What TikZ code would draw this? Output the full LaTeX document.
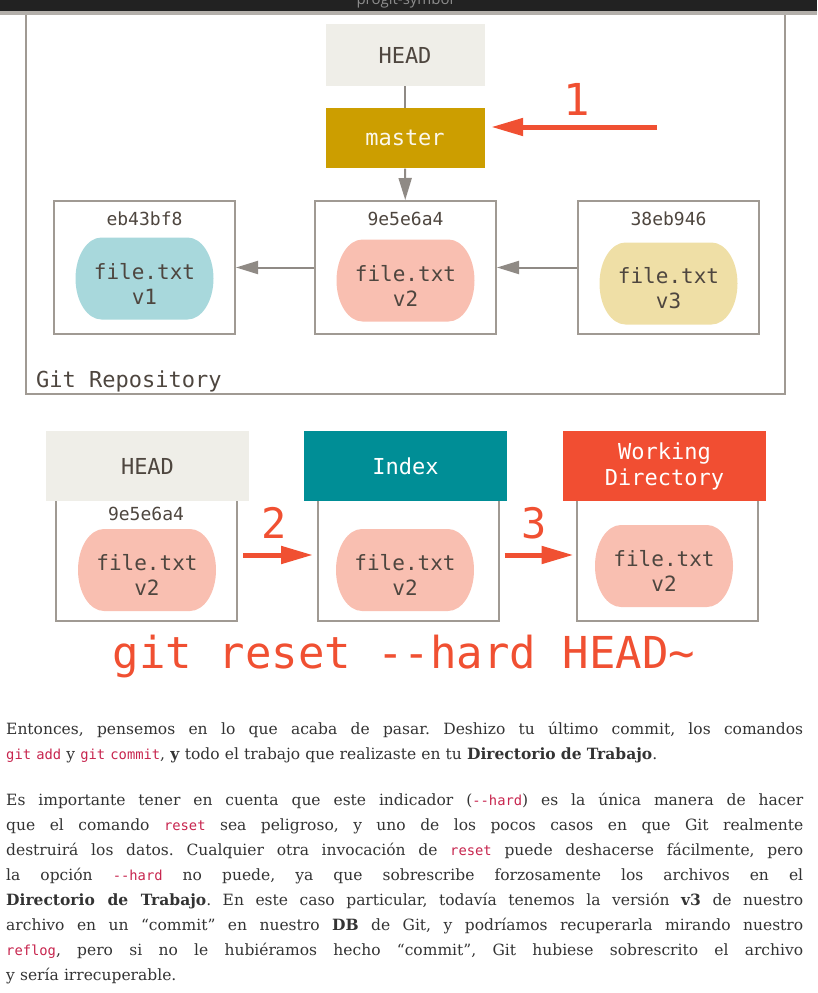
\documentclass[tikz,border=0pt]{standalone}
\usepackage{fontspec}
\setmainfont{DejaVu Serif}
\setmonofont{DejaVu Sans Mono}
\newfontfamily\barfont{Open Sans}
\usetikzlibrary{arrows.meta, positioning}

\definecolor{headfill}{HTML}{EFEEE8}
\definecolor{masterfill}{HTML}{CC9E00}
\definecolor{indexfill}{HTML}{008E96}
\definecolor{workfill}{HTML}{F14E32}
\definecolor{vonefill}{HTML}{A8D8DC}
\definecolor{vtwofill}{HTML}{F9BFB1}
\definecolor{vthreefill}{HTML}{EFDFA6}
\definecolor{ink}{HTML}{4E463F}
\definecolor{edgegrey}{HTML}{A09A93}
\definecolor{arrowgrey}{HTML}{8F8A85}
\definecolor{resetred}{HTML}{F05032}
\definecolor{codered}{HTML}{C7254E}
\definecolor{bodyink}{HTML}{333333}
\definecolor{barblack}{HTML}{222222}
\definecolor{bargrey}{HTML}{B3AFAA}

\newcommand\code[1]{{\ttfamily\fontsize{13.8}{25.1}\selectfont\color{codered}#1}}
\newcommand\fullline[1]{\makebox[797pt][s]{\spaceskip=0pt\xspaceskip=0pt\frenchspacing #1}}

\begin{document}
\begin{tikzpicture}[x=1pt, y=-1pt, every node/.style={inner sep=0pt},
	pointer/.style={minimum width=159pt, font=\ttfamily\fontsize{22}{26}\selectfont},
	headbox/.style={pointer, fill=headfill, text=ink, minimum height=62pt},
	branch/.style={pointer, fill=masterfill, text=white!92!masterfill, minimum height=60pt},
	commit/.style={draw=edgegrey, line width=2pt, minimum width=181pt, minimum height=133pt},
	stage/.style={draw=edgegrey, line width=2pt, minimum width=181pt, minimum height=124pt},
	area/.style={minimum width=203pt, minimum height=70pt, align=center, font=\ttfamily\fontsize{22}{26}\selectfont},
	hash/.style={text=ink, font=\ttfamily\fontsize{18}{22}\selectfont},
	blob/.style={minimum width=138pt, minimum height=92pt, align=center, text=ink, font=\ttfamily\fontsize{21}{25}\selectfont,
		path picture={\fill [#1] ([xshift=26pt]path picture bounding box.north west)
			-- ([xshift=-26pt]path picture bounding box.north east)
			arc [start angle=90, end angle=-90, x radius=26pt, y radius=41pt]
			-- ([xshift=26pt, yshift=10pt]path picture bounding box.south west)
			arc [start angle=270, end angle=90, x radius=26pt, y radius=41pt] -- cycle;}},
	history/.style={-{Triangle[length=22pt, width=13pt]}, draw=arrowgrey, line width=2pt},
	move/.style={-{Triangle[length=32pt, width=17pt]}, draw=resetred, line width=5pt},
	stepnum/.style={anchor=base, text=resetred, font=\ttfamily\fontsize{42}{42}\selectfont},
	prose/.style={anchor=base west, text width=797pt, align=left, text=bodyink, font=\fontsize{15.5}{25.1}\selectfont}]

	\useasboundingbox (0,0) rectangle (817,993);
	
	% window bar
	\fill [barblack] (0,0) rectangle (817,11);
	\begin{scope}
		\clip (0,0) rectangle (817,11);
		\node (bartitle) [anchor=base, text=black!45, font=\barfont\fontsize{15}{18}\selectfont] at (405,5) {progit-symbol};
	\end{scope}
	
	% repository
	\node (repo) 
		[draw=edgegrey, line width=2pt, minimum width=759pt, minimum height=380pt] at (405.5,204) {};
	\fill [bargrey] (0,11) rectangle (817,15);
	\node (repolabel) 
		[anchor=base west, text=ink, font=\ttfamily\fontsize{22}{26}\selectfont] at (36,387) {Git Repository};
	
	\node (headtop) 
		[headbox] at (405,55) {HEAD};
		\node (master) 
			[branch, below=22pt of headtop] {master};
	
	\node (c2) 
		[commit] at (405.5,267.5) {};
		\node (c1) 
			[commit, left=78pt of c2] {};
		\node (c3) 
			[commit, right=80pt of c2] {};
	
	\node (h1) [hash] at ([yshift=-19pt]c1.north) {eb43bf8};
	\node (h2) [hash] at ([yshift=-19pt]c2.north) {9e5e6a4};
	\node (h3) [hash] at ([yshift=-19pt]c3.north) {38eb946};
	
	\node (b1) [blob=vonefill] at ([yshift=-16pt]c1.center) {file.txt\\v1};
	\node (b2) [blob=vtwofill] at ([yshift=-18pt]c2.center) {file.txt\\v2};
	\node (b3) [blob=vthreefill] at ([yshift=-21pt]c3.center) {file.txt\\v3};
	
	\draw [draw=arrowgrey, line width=2pt] (headtop) -- (master);
	\draw [history] (master) -- (c2);
	\draw [history] (c2) -- (c1);
	\draw [history] (c3) -- (c2);
	
	\coordinate (onestart) at (657,127);
	\draw [move, shorten >=6.5pt] (onestart) -- (onestart -| master.east);
	\node (one) [stepnum, font=\ttfamily\fontsize{44}{44}\selectfont] at (577,115) {1};
	
	% the three trees
	\node (headbody) 
		[stage] at (146.5,559) {};
		\node (indexbody) 
			[stage, right=79pt of headbody] {};
		\node (workbody) 
			[stage, right=76pt of indexbody] {};
	
	\node (headarea) [area, fill=headfill, text=ink] at (147.5,466) {HEAD};
	\node (indexarea) [area, fill=indexfill, text=white] at (405.5,466) {Index};
	\node (workarea) [area, fill=workfill, text=white] at (664.5,466) {Working\\Directory};
	
	\node (h4) [hash] at (146,514) {9e5e6a4};
	
	\node (b4) [blob=vtwofill] at (147,575) {file.txt\\v2};
	\node (b5) [blob=vtwofill] at (405,575) {file.txt\\v2};
	\node (b6) [blob=vtwofill] at (664,571) {file.txt\\v2};
	
	\draw [move] ([shift={(5,-4)}]headbody.east) -- ([shift={(-4,-4)}]indexbody.west);
	\draw [move] ([shift={(4.5,-4)}]indexbody.east) -- ([shift={(-2.5,-4)}]workbody.west);
	\node (two) [stepnum] at (274,538) {2};
	\node (three) [stepnum] at (534,538) {3};
	
	\node (cmd) 
		[anchor=base, text=resetred, font=\ttfamily\fontsize{44}{44}\selectfont] at (404,668) {git reset -{}-hard HEAD\string~};
	
	% text below the figure
	\node (intro) [prose] at (6,734) {%
		\fullline{Entonces, pensemos en lo que acaba de pasar. Deshizo tu último commit, los comandos}\\
		\code{git add} y \code{git commit}, \textbf{y} todo el trabajo que realizaste en tu \textbf{Directorio de Trabajo}.};
	\node (warning) [prose] at (6,805) {%
		\fullline{Es importante tener en cuenta que este indicador (\code{-{}-hard}) es la única manera de hacer}\\
		\fullline{que el comando \code{reset} sea peligroso, y uno de los pocos casos en que Git realmente}\\
		\fullline{destruirá los datos. Cualquier otra invocación de \code{reset} puede deshacerse fácilmente, pero}\\
		\fullline{la opción \code{-{}-hard} no puede, ya que sobrescribe forzosamente los archivos en el}\\
		\fullline{\textbf{Directorio de Trabajo}. En este caso particular, todavía tenemos la versión \textbf{v3} de nuestro}\\
		\fullline{archivo en un “commit” en nuestro \textbf{DB} de Git, y podríamos recuperarla mirando nuestro}\\
		\fullline{\code{reflog}, pero si no le hubiéramos hecho “commit”, Git hubiese sobrescrito el archivo}\\
		y sería irrecuperable.};
\end{tikzpicture}
\end{document}
